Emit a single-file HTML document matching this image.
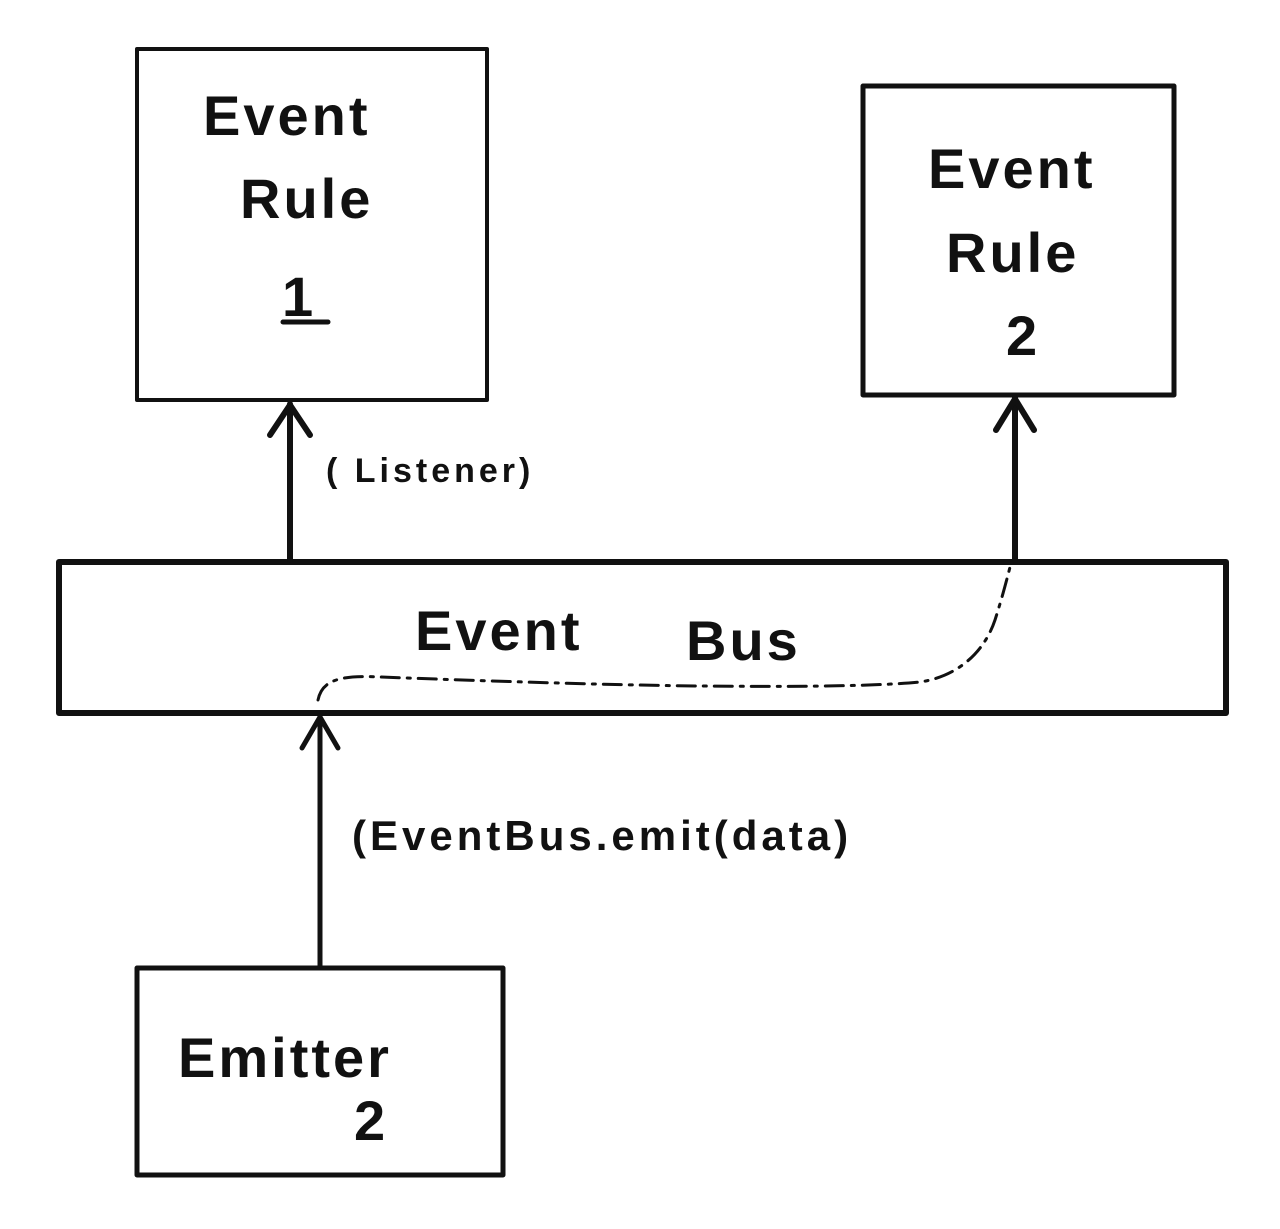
<!DOCTYPE html>
<html><head><meta charset="utf-8"><style>
html,body{margin:0;padding:0;background:#fff;}
svg{display:block}
text{font-family:"Liberation Sans",sans-serif;fill:#111;font-weight:bold;}
</style></head><body>
<svg width="1280" height="1229" viewBox="0 0 1280 1229" xmlns="http://www.w3.org/2000/svg">
<g fill="none" stroke="#111" stroke-linecap="round" stroke-linejoin="round">
<rect x="137" y="49" width="350" height="351" stroke-width="4"/>
<rect x="863" y="86" width="311" height="309" stroke-width="5"/>
<rect x="59" y="562" width="1167" height="151" stroke-width="6"/>
<rect x="137" y="968" width="366" height="207" stroke-width="5"/>
<line x1="290" y1="560" x2="290" y2="404" stroke-width="6"/>
<polyline points="270,435 290,405 310,435" stroke-width="6"/>
<line x1="1015" y1="560" x2="1015" y2="398" stroke-width="6"/>
<polyline points="996,430 1015,399 1034,430" stroke-width="6"/>
<line x1="320" y1="966" x2="320" y2="716" stroke-width="5"/>
<polyline points="302,748 320,717 338,748" stroke-width="5"/>
<path d="M318,700 C322,680 340,675 380,677 C460,680 600,685 700,686 C800,687 880,686 920,682 C960,676 985,650 995,620 C1003,595 1008,575 1010,567" stroke-width="3" stroke-dasharray="18,8,3,8"/>
<line x1="283" y1="322" x2="328" y2="322" stroke-width="5"/>
</g>
<g font-size="56" letter-spacing="3">
<text x="203" y="135">Event</text>
<text x="240" y="218">Rule</text>
<text x="282" y="316">1</text>
<text x="928" y="188">Event</text>
<text x="946" y="272">Rule</text>
<text x="1006" y="355">2</text>
<text x="415" y="650">Event</text>
<text x="686" y="660">Bus</text>
<text x="178" y="1077">Emitter</text>
<text x="354" y="1140">2</text>
</g>
<text x="326" y="482" font-size="34" letter-spacing="4">( Listener)</text>
<text x="352" y="850" font-size="42" letter-spacing="4">(EventBus.emit(data)</text>
</svg>
</body></html>
